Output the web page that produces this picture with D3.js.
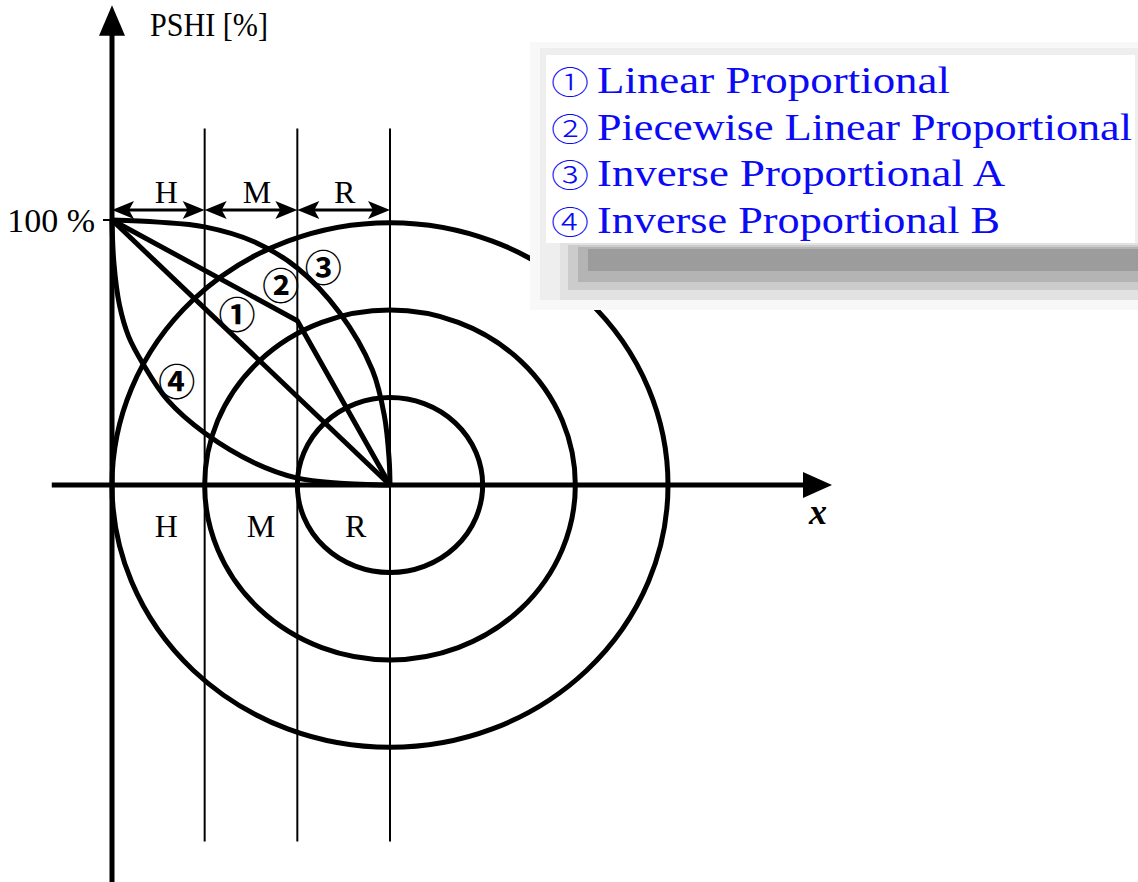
<!DOCTYPE html>
<html><head><meta charset="utf-8">
<script src="https://cdn.jsdelivr.net/npm/d3@7/dist/d3.min.js"></script>
<style>body{margin:0;background:#fff}svg{display:block}</style>
</head><body>
<script>
// ---- data (x in zone units: 0..3 = H|M|R, y in PSHI %) ----
const zones = ["H", "M", "R"];
const zoneBounds = [0, 1, 2, 3];
const yTickLabel = "100 %";
const curveLinear = [[0, 100], [3, 0]];
const curvePiecewise = [[0, 100], [2, 62], [3, 0]];
const curveInverseA = [[0, 100], [0.5, 99.2], [1.0, 97.4], [1.54, 91.7], [2.0, 81.9], [2.45, 65.3], [2.81, 43.4], [2.94, 26], [2.99, 10], [3.0, 0]];
const curveInverseB = [[0, 100], [0.02, 84], [0.08, 68], [0.18, 56], [0.335, 45.7], [0.6, 32], [1.0, 19.6], [1.54, 8.3], [2.0, 2.6], [2.46, 0.7], [3.0, 0]];
const ringRx = [1, 2, 3];
const ringRy = [33, 66, 99];
const ringCenter = [3, 0];
const curveMarks = ["①", "②", "③", "④"];
const markPos = [[1.35, 65], [1.82, 76], [2.28, 82.5], [0.7, 39.5]];
const legendLabels = ["Linear Proportional", "Piecewise Linear Proportional", "Inverse Proportional A", "Inverse Proportional B"];

const W = 1138, H = 882;
const svg = d3.select("body").append("svg").attr("width", W).attr("height", H);
const x = d3.scaleLinear().domain([0, 3]).range([112, 390]);
const y = d3.scaleLinear().domain([0, 100]).range([485, 220]);
const px = v => x(v) - x(0), py = v => y(0) - y(v);
const serif = "'Liberation Serif', 'Times New Roman', serif";

// zone vertical lines
svg.selectAll(".zl").data(zoneBounds.slice(1)).join("line")
  .attr("x1", d => x(d)).attr("x2", d => x(d))
  .attr("y1", y(134.5)).attr("y2", y(-134.5))
  .attr("stroke", "#000").attr("stroke-width", 2);

// rings
svg.selectAll(".ring").data(ringRx).join("ellipse")
  .attr("cx", x(ringCenter[0])).attr("cy", y(ringCenter[1]))
  .attr("rx", d => px(d)).attr("ry", (d, i) => py(ringRy[i]))
  .attr("fill", "none").attr("stroke", "#000").attr("stroke-width", 5);

// axes
const axisG = svg.append("g");
axisG.append("line").attr("x1", x(-0.65)).attr("x2", x(7.5)).attr("y1", y(0)).attr("y2", y(0))
  .attr("stroke", "#000").attr("stroke-width", 5);
axisG.append("path").attr("d", d3.line()([[x(7.5) - 4, y(0) - 13], [x(7.77), y(0)], [x(7.5) - 4, y(0) + 13]]) + "Z").attr("fill", "#000");
axisG.append("line").attr("x1", x(0)).attr("x2", x(0)).attr("y1", y(-150)).attr("y2", y(171))
  .attr("stroke", "#000").attr("stroke-width", 5);
axisG.append("path").attr("d", d3.line()([[x(0) - 13, y(171) + 4], [x(0), y(181)], [x(0) + 13, y(171) + 4]]) + "Z").attr("fill", "#000");
axisG.append("line").attr("x1", x(0) - 9).attr("x2", x(0)).attr("y1", y(100)).attr("y2", y(100)).attr("stroke", "#000").attr("stroke-width", 2);

// curves
const line = d3.line().x(d => x(d[0])).y(d => y(d[1]));
const smooth = d3.line().x(d => x(d[0])).y(d => y(d[1])).curve(d3.curveCatmullRom.alpha(0.5));
[[curveLinear, line], [curvePiecewise, line], [curveInverseA, smooth], [curveInverseB, smooth]].forEach(([d, gen]) => {
  svg.append("path").attr("d", gen(d)).attr("fill", "none").attr("stroke", "#000")
    .attr("stroke-width", 5).attr("stroke-linejoin", "round");
});

// double arrows for zones
const arrY = y(103.8);
const topOff = [8, 6, 1], botOff = [8, 10, 12];
zones.forEach((z, i) => {
  const a = x(zoneBounds[i]), b = x(zoneBounds[i + 1]);
  svg.append("line").attr("x1", a + 10).attr("x2", b - 10).attr("y1", arrY).attr("y2", arrY).attr("stroke", "#000").attr("stroke-width", 3);
  svg.append("path").attr("d", `M${a},${arrY}L${a + 22},${arrY - 9}L${a + 17},${arrY}L${a + 22},${arrY + 9}Z`).attr("fill", "#000");
  svg.append("path").attr("d", `M${b},${arrY}L${b - 22},${arrY - 9}L${b - 17},${arrY}L${b - 22},${arrY + 9}Z`).attr("fill", "#000");
  svg.append("text").attr("x", (a + b) / 2 + topOff[i]).attr("y", y(106.5)).attr("text-anchor", "middle")
    .attr("font-family", serif).attr("font-size", 32).text(z);
  svg.append("text").attr("x", (a + b) / 2 + botOff[i]).attr("y", y(-19.5)).attr("text-anchor", "middle")
    .attr("font-family", serif).attr("font-size", 32).text(z);
});

// axis labels
svg.append("text").attr("x", 95).attr("y", y(100) + 12).attr("text-anchor", "end")
  .attr("font-family", serif).attr("font-size", 34).text(yTickLabel);
svg.append("text").attr("x", 150).attr("y", 36).attr("font-family", serif).attr("font-size", 33)
  .attr("textLength", 118).attr("lengthAdjust", "spacingAndGlyphs").text("PSHI [%]");
svg.append("text").attr("x", 818).attr("y", 524).attr("text-anchor", "middle").attr("font-family", serif)
  .attr("font-style", "italic").attr("font-weight", "bold").attr("font-size", 36).text("x");

// circled markers
svg.selectAll(".mk").data(curveMarks).join("text")
  .attr("x", (d, i) => x(markPos[i][0])).attr("y", (d, i) => y(markPos[i][1]))
  .attr("text-anchor", "middle").attr("dominant-baseline", "central")
  .attr("font-family", "Noto Sans CJK KR").attr("font-weight", 700).attr("font-size", 37).text(d => d);

// legend
const lg = svg.append("g");
const shades = [["#f8f8f8", 530, 42, 608, 268], ["#eeeeee", 540, 48, 598, 252], ["#e2e2e2", 560, 243, 578, 57], ["#cccccc", 568, 245, 570, 45], ["#b4b4b4", 578, 247, 560, 35], ["#9c9c9c", 588, 249, 550, 22]];
shades.forEach(s => lg.append("rect").attr("x", s[1]).attr("y", s[2]).attr("width", s[3]).attr("height", s[4]).attr("fill", s[0]));
lg.append("rect").attr("x", 546).attr("y", 55).attr("width", 589).attr("height", 188).attr("fill", "#fff");
const lens = [353, 535, 408, 403];
legendLabels.forEach((t, i) => {
  const by = 93 + i * 46.5;
  const tx = lg.append("text").attr("y", by).attr("fill", "#0a0af5").attr("font-size", 37);
  tx.append("tspan").attr("x", 551).attr("dy", 1).attr("font-family", "Noto Sans CJK KR").attr("font-weight", 300)
    .attr("font-size", 32).attr("textLength", 38).attr("lengthAdjust", "spacingAndGlyphs").text(curveMarks[i]);
  tx.append("tspan").attr("x", 597).attr("dy", -1).attr("font-family", serif)
    .attr("textLength", lens[i]).attr("lengthAdjust", "spacingAndGlyphs").text(t);
});
</script>
</body></html>
